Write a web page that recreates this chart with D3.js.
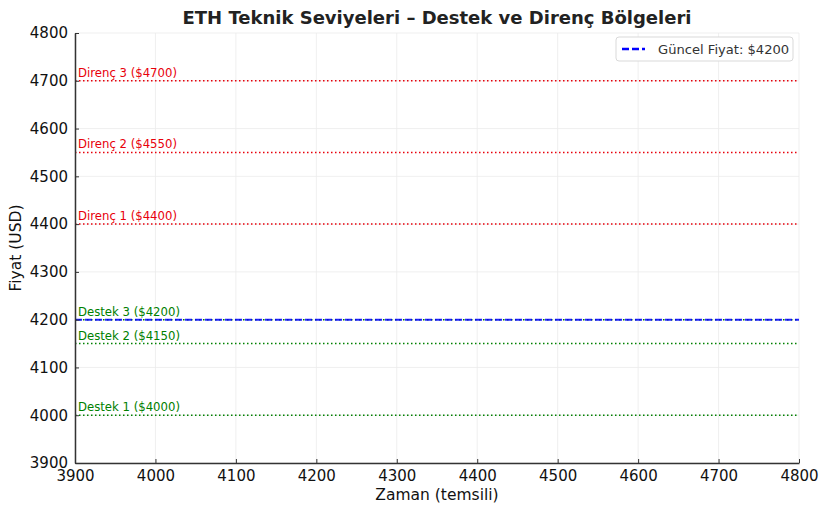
<!DOCTYPE html>
<html><head><meta charset="utf-8">
<script src="https://cdn.jsdelivr.net/npm/d3@7"></script>
<style>body{margin:0;background:#fff;} text{font-family:"DejaVu Sans",sans-serif;}</style>
</head><body><svg id="c" width="829" height="514"></svg>
<script>
const levelNames = ["Destek 1", "Destek 2", "Destek 3", "Direnç 1", "Direnç 2", "Direnç 3"];
const levelValues = [4000, 4150, 4200, 4400, 4550, 4700];
const levelKinds = ["support", "support", "support", "resistance", "resistance", "resistance"];
const currentPrice = 4200;
const xTicks = [3900, 4000, 4100, 4200, 4300, 4400, 4500, 4600, 4700, 4800];
const yTicks = [3900, 4000, 4100, 4200, 4300, 4400, 4500, 4600, 4700, 4800];

const svg = d3.select("#c");
const m = {l: 75, r: 799, t: 33, b: 463};
const x = d3.scaleLinear().domain([3900, 4800]).range([m.l, m.r]);
const y = d3.scaleLinear().domain([3900, 4800]).range([m.b, m.t]);
const color = {support: "#008000", resistance: "#e8000b"};

// grid
svg.append("g").selectAll("line.gx").data(xTicks).join("line")
  .attr("x1", d => x(d)).attr("x2", d => x(d)).attr("y1", m.t).attr("y2", m.b)
  .attr("stroke", "#ebebeb").attr("stroke-width", 0.8);
svg.append("g").selectAll("line.gy").data(yTicks).join("line")
  .attr("y1", d => y(d)).attr("y2", d => y(d)).attr("x1", m.l).attr("x2", m.r)
  .attr("stroke", "#ebebeb").attr("stroke-width", 0.8);

// levels
const lv = levelValues.map((v, i) => ({v, name: levelNames[i], kind: levelKinds[i]}));
svg.append("g").selectAll("line").data(lv).join("line")
  .attr("x1", m.l).attr("x2", m.r).attr("y1", d => y(d.v)).attr("y2", d => y(d.v))
  .attr("stroke", d => color[d.kind]).attr("stroke-width", 1.5).attr("stroke-dasharray", "1.5,2.5");
svg.append("g").selectAll("text").data(lv).join("text")
  .attr("x", m.l + 3).attr("y", d => y(d.v) - 4)
  .attr("fill", d => color[d.kind]).attr("font-size", 11.7)
  .text(d => `${d.name} ($${d.v})`);

// current price
svg.append("line").attr("x1", m.l).attr("x2", m.r).attr("y1", y(currentPrice)).attr("y2", y(currentPrice))
  .attr("stroke", "#0000ff").attr("stroke-width", 2).attr("stroke-dasharray", "7,3").attr("opacity", 0.85);

// axes
const xa = svg.append("g").attr("transform", `translate(0,${m.b})`)
  .call(d3.axisBottom(x).tickValues(xTicks).tickFormat(d3.format("d")).tickSizeInner(-4).tickSizeOuter(0).tickPadding(7));
const ya = svg.append("g").attr("transform", `translate(${m.l},0)`)
  .call(d3.axisLeft(y).tickValues(yTicks).tickFormat(d3.format("d")).tickSizeInner(-4).tickSizeOuter(0).tickPadding(7));
[xa, ya].forEach(a => {
  a.selectAll("text").attr("font-size", 15).attr("fill", "#111").attr("font-family", "DejaVu Sans");
  a.selectAll("line").attr("stroke", "#333");
  a.select(".domain").attr("stroke", "#333").attr("stroke-width", 1.5);
});

// labels
svg.append("text").attr("x", (m.l + m.r) / 2).attr("y", 24).attr("text-anchor", "middle")
  .attr("font-size", 18).attr("font-weight", "bold").attr("fill", "#222")
  .text("ETH Teknik Seviyeleri – Destek ve Direnç Bölgeleri");
svg.append("text").attr("x", (m.l + m.r) / 2).attr("y", 500).attr("text-anchor", "middle")
  .attr("font-size", 15.5).attr("fill", "#111").text("Zaman (temsili)");
svg.append("text").attr("transform", `translate(21,${(m.t + m.b) / 2}) rotate(-90)`).attr("text-anchor", "middle")
  .attr("font-size", 15.5).attr("fill", "#111").text("Fiyat (USD)");

// legend
const lg = svg.append("g");
lg.append("rect").attr("x", 616).attr("y", 37).attr("width", 177).attr("height", 24).attr("rx", 3)
  .attr("fill", "#fff").attr("stroke", "#d9d9d9");
lg.append("line").attr("x1", 622).attr("x2", 645).attr("y1", 49).attr("y2", 49)
  .attr("stroke", "#0000ff").attr("stroke-width", 2.5).attr("stroke-dasharray", "7,3");
lg.append("text").attr("x", 658).attr("y", 53.5).attr("font-size", 13.1).attr("fill", "#333")
  .text(`Güncel Fiyat: $${currentPrice}`);
</script></body></html>
